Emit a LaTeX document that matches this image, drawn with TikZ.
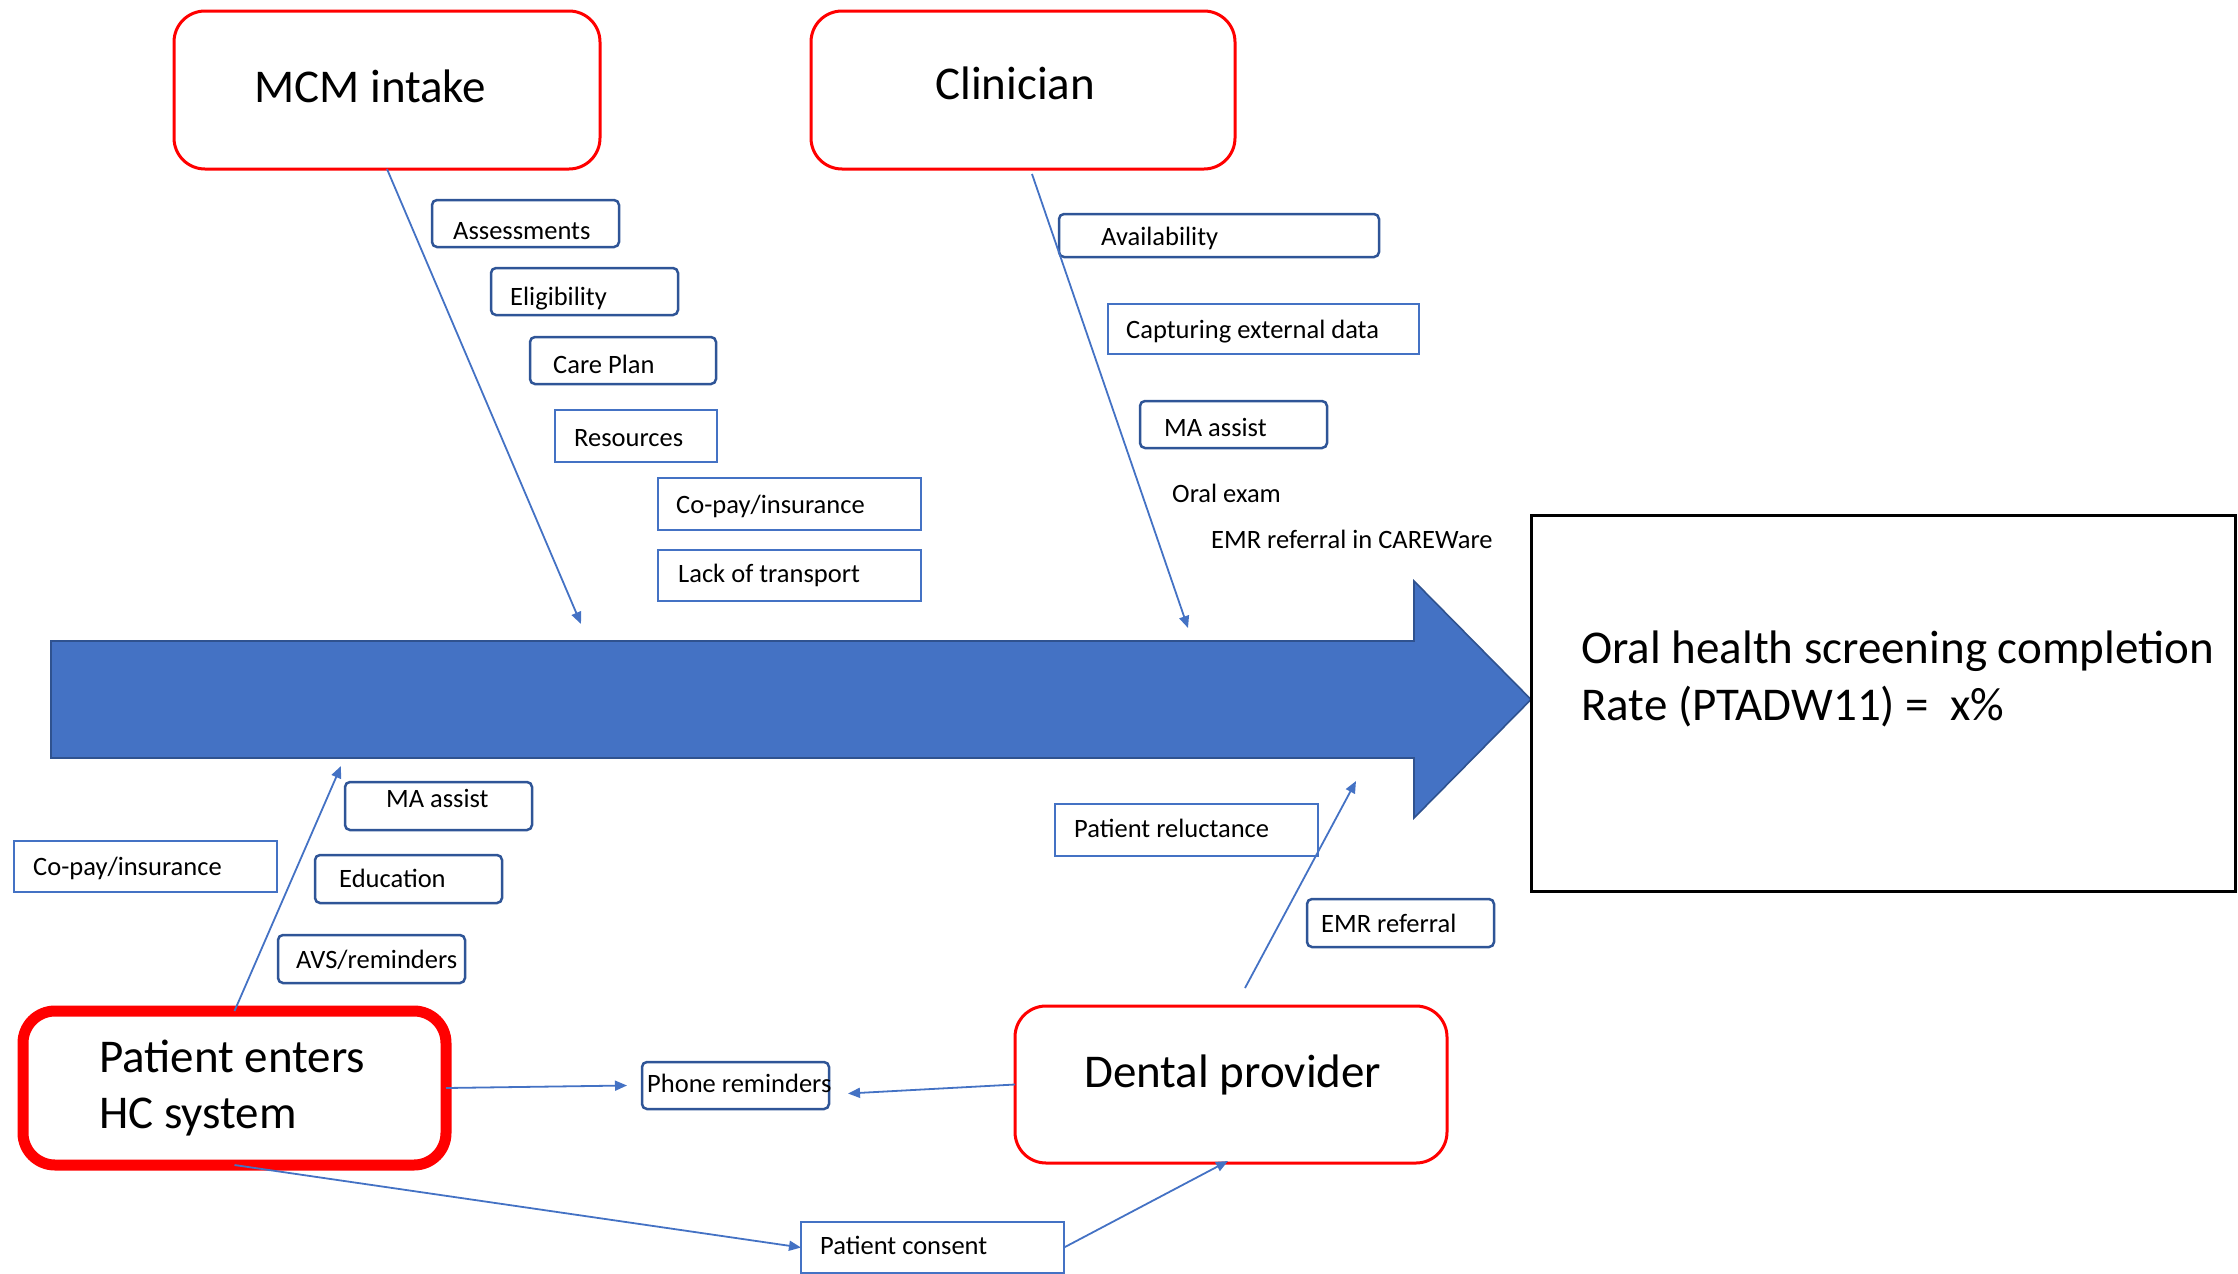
\documentclass[tikz,border=0pt]{standalone}
\usepackage{fontspec}
\setmainfont{Carlito}
\usetikzlibrary{arrows.meta}

\definecolor{actorred}{HTML}{FF0000}
\definecolor{darkframe}{HTML}{2F5597}
\definecolor{lightframe}{HTML}{4472C4}
\definecolor{shaftfill}{HTML}{4472C4}
\definecolor{shaftline}{HTML}{2F528F}

\tikzset{
  boxbase/.style={anchor=north west, outer sep=0, inner sep=0, fill=white},
  actor/.style={boxbase, draw=actorred, line width=3, rounded corners=31},
  entrybox/.style={boxbase, draw=actorred, line width=11, rounded corners=32},
  darkbox/.style={boxbase, draw=darkframe, line width=2.5, rounded corners=5},
  lightbox/.style={boxbase, draw=lightframe, line width=1.6},
  resultbox/.style={boxbase, draw=black, line width=3},
  biglabel/.style={font=\fontsize{47}{56}\selectfont, anchor=base west, inner sep=0},
  smalllabel/.style={font=\fontsize{26.5}{32}\selectfont, anchor=base west, inner sep=0},
  link/.style={draw=lightframe, line width=1.8, -{Triangle[length=12,width=10]}},
}

\begin{document}
\begin{tikzpicture}[x=1pt,y=-1pt]
\useasboundingbox (0,0) rectangle (2238,1274);

% main spine arrow
\draw[fill=shaftfill, draw=shaftline, line width=1.6]
  (51,641) -- (1414,641) -- (1414,581) -- (1531,699.5) -- (1414,818)
  -- (1414,758) -- (51,758) -- cycle;

% outcome (multi-line nodes sit on the baseline of their last line)
\node[resultbox, minimum width=704, minimum height=376] (b-result) at (1531,515) {};
\node[biglabel, font=\fontsize{47}{57}\selectfont, align=left] (t-result) at (1581,720)
  {Oral health screening completion\\Rate (PTADW11) =\ \ x\%};

% actors
\node[actor, minimum width=426, minimum height=158] (b-mcm) at (174,11) {};
\node[biglabel] (t-mcm) at (254,102) {MCM intake};
\node[actor, minimum width=424, minimum height=158] (b-clin) at (811,11) {};
\node[biglabel] (t-clin) at (935,99) {Clinician};
\node[actor, minimum width=432, minimum height=157] (b-dent) at (1015,1006) {};
\node[biglabel] (t-dent) at (1084,1087) {Dental provider};
\node[entrybox, minimum width=423, minimum height=154] (b-pat) at (23,1011) {};
\node[biglabel, align=left] (t-pat) at (99,1128) {Patient enters\\HC system};

% MCM intake causes
\node[darkbox, minimum width=187, minimum height=47] (b-assess) at (432,200) {};
\node[smalllabel] (t-assess) at (453,239) {Assessments};
\node[darkbox, minimum width=187, minimum height=47] (b-elig) at (491,268) {};
\node[smalllabel] (t-elig) at (510,305) {Eligibility};
\node[darkbox, minimum width=186, minimum height=47] (b-care) at (530,337) {};
\node[smalllabel] (t-care) at (553,373) {Care Plan};
\node[lightbox, minimum width=162, minimum height=52] (b-res) at (555,410) {};
\node[smalllabel] (t-res) at (574,446) {Resources};
\node[lightbox, minimum width=263, minimum height=52] (b-copt) at (658,478) {};
\node[smalllabel] (t-copt) at (676,513) {Co-pay/insurance};
\node[lightbox, minimum width=263, minimum height=51] (b-lack) at (658,550) {};
\node[smalllabel] (t-lack) at (678,582) {Lack of transport};

% Clinician causes
\node[darkbox, minimum width=320, minimum height=43] (b-avail) at (1059,214) {};
\node[smalllabel] (t-avail) at (1101,245) {Availability};
\node[lightbox, minimum width=311, minimum height=50] (b-capt) at (1108,304) {};
\node[smalllabel] (t-capt) at (1126,338) {Capturing external data};
\node[darkbox, minimum width=187, minimum height=47] (b-mat) at (1140,401) {};
\node[smalllabel] (t-mat) at (1164,436) {MA assist};
\node[smalllabel] (t-oral) at (1172,502) {Oral exam};
\node[smalllabel] (t-emrc) at (1211,548) {EMR referral in CAREWare};

% Patient causes
\node[darkbox, minimum width=187, minimum height=48] (b-mab) at (345,782) {};
\node[smalllabel] (t-mab) at (386,807) {MA assist};
\node[darkbox, minimum width=187, minimum height=48] (b-edu) at (315,855) {};
\node[smalllabel] (t-edu) at (339,887) {Education};
\node[darkbox, minimum width=187, minimum height=48] (b-avs) at (278,935) {};
\node[smalllabel] (t-avs) at (296,968) {AVS/reminders};
\node[lightbox, minimum width=263, minimum height=51] (b-copb) at (14,841) {};
\node[smalllabel] (t-copb) at (33,875) {Co-pay/insurance};

% Dental provider causes
\node[lightbox, minimum width=263, minimum height=52] (b-reluc) at (1055,804) {};
\node[smalllabel] (t-reluc) at (1074,837) {Patient reluctance};
\node[darkbox, minimum width=187, minimum height=48] (b-emr) at (1307,899) {};
\node[smalllabel] (t-emr) at (1321,932) {EMR referral};

% bottom row
\node[darkbox, minimum width=187, minimum height=47] (b-phone) at (642,1062) {};
\node[smalllabel] (t-phone) at (647,1092) {Phone reminders};
\node[lightbox, minimum width=263, minimum height=51] (b-consent) at (801,1222) {};
\node[smalllabel] (t-consent) at (820,1254) {Patient consent};

% free ends of the branch arrows near the spine
\coordinate (mcm-end) at (581,624);
\coordinate (clin-end) at (1188,628);
\coordinate (pat-end) at (341,766);
\coordinate (dent-end) at (1356,781);

% branches
\draw[link] (b-mcm.south) -- (mcm-end);
\draw[link] ([shift={(9,5)}]b-clin.south) -- (clin-end);
\draw[link] (b-pat.north) -- (pat-end);
\draw[link] ([shift={(14,-18)}]b-dent.north) -- (dent-end);
\draw[link] (b-pat.east) -- ([shift={(-15,0)}]b-phone.west);
\draw[link] (b-dent.west) -- ([shift={(19,8)}]b-phone.east);
\draw[link] (b-pat.south) -- (b-consent.west);
\draw[link] (b-consent.east) -- ([shift={(-3,-2)}]b-dent.south);
\end{tikzpicture}
\end{document}
